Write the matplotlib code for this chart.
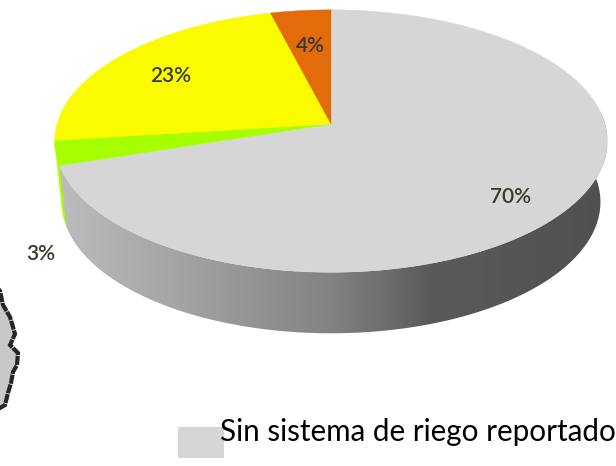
import numpy as np
import matplotlib
matplotlib.use("Agg")
import matplotlib.pyplot as plt
from matplotlib.patches import Polygon
from matplotlib.colors import LinearSegmentedColormap

categories = ["Sin sistema de riego reportado", "Verde", "Amarillo", "Naranja"]
values = [70, 3, 23, 4]
pct_labels = ["70%", "3%", "23%", "4%"]
colors = ["#d6d6d6", "#a6ff00", "#fbfb00", "#e26b0a"]
label_xy = [(511, 197), (41, 254), (171, 76), (310, 46)]
legend_label = categories[0]

# outline of the map fragment at the left edge (pixels)
map_x = [-5, 0, 3, 10, 13, 15, 10, 18, 17, 13, 11, 8, 5, 0, -5]
map_y = [285, 291, 305, 317, 327, 334, 345, 353, 365, 372, 383, 393, 405, 408, 410]

fig = plt.figure(figsize=(6.16, 4.66), dpi=100)
ax = fig.add_axes([0, 0, 1, 1])
ax.set_xlim(0, 616)
ax.set_ylim(466, 0)
ax.axis("off")

CX, CY, R, S, K, DEPTH, TAPER = 331, 124, 274, 129, 0.13, 61, 0.975


def project(theta_deg):
    t = np.radians(theta_deg)
    x, y = np.sin(t), np.cos(t)
    d = 1 + K * y
    return CX + R * x / d, CY - S * y / d


def wall_poly(th):
    x, y = project(th)
    bx = CX + (x - CX) * TAPER
    return np.r_[np.c_[x, y], np.c_[bx, y + DEPTH][::-1]]


cum = np.concatenate([[0], np.cumsum(values)]) * 360 / sum(values)

# walls
ax.add_patch(Polygon(wall_poly(np.linspace(cum[1] - 1, cum[1] + 6, 30)),
                     fc=colors[1], ec="none", zorder=1))

wall = Polygon(wall_poly(np.linspace(85, cum[1], 300)), fc="none", ec="none", zorder=2)
ax.add_patch(wall)
cmap = LinearSegmentedColormap.from_list(
    "wall", [(0, "#bcbcbc"), (0.25, "#a0a0a0"), (0.5, "#828282"), (0.68, "#5a5a5a"), (1, "#505050")])
im = ax.imshow(np.linspace(0, 1, 256)[None, :], cmap=cmap, aspect="auto",
               extent=(60, 607, 340, 100), zorder=2)
im.set_clip_path(wall)
ax.set_xlim(0, 616)
ax.set_ylim(466, 0)

# top faces
for i, col in enumerate(colors):
    th = np.linspace(cum[i], cum[i + 1], 200)
    x, y = project(th)
    ax.add_patch(Polygon(np.r_[[[CX, CY]], np.c_[x, y]], fc=col, ec=col, lw=0.3, zorder=3))

for (lx, ly), txt in zip(label_xy, pct_labels):
    ax.text(lx, ly, txt, ha="center", va="center", fontsize=15, family="Lato",
            color="#38382c", fontweight="semibold", zorder=5)

# map fragment
ax.fill(map_x, map_y, fc="#c8c8c8", ec="#262626", lw=3, ls=(0, (2.2, 0.2)), zorder=1)

# legend
ax.bar([201], [31], width=46, bottom=[427], color=colors[0], zorder=1)
ax.text(220, 441, legend_label, ha="left", va="baseline", fontsize=21.3, family="Lato",
        color="black", zorder=5)

fig.savefig("out.png", dpi=100)
